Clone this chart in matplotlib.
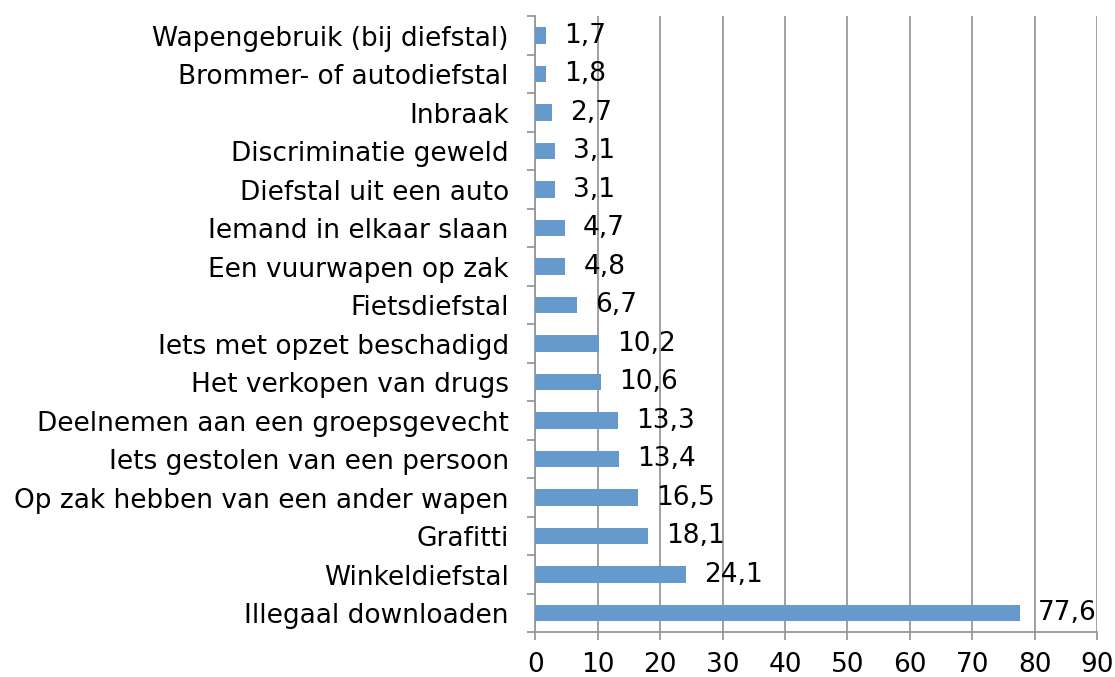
import numpy as np
import matplotlib.pyplot as plt

# categories bottom to top
categories = [
    "Illegaal downloaden",
    "Winkeldiefstal",
    "Grafitti",
    "Op zak hebben van een ander wapen",
    "Iets gestolen van een persoon",
    "Deelnemen aan een groepsgevecht",
    "Het verkopen van drugs",
    "Iets met opzet beschadigd",
    "Fietsdiefstal",
    "Een vuurwapen op zak",
    "Iemand in elkaar slaan",
    "Diefstal uit een auto",
    "Discriminatie geweld",
    "Inbraak",
    "Brommer- of autodiefstal",
    "Wapengebruik (bij diefstal)",
]
values = [77.6, 24.1, 18.1, 16.5, 13.4, 13.3, 10.6, 10.2, 6.7, 4.8, 4.7, 3.1, 3.1, 2.7, 1.8, 1.7]
xticks = list(range(0, 91, 10))

plt.rcParams['font.family'] = ['DejaVu Sans']
fs = 19

fig = plt.figure(figsize=(11.15, 6.77), dpi=100)
ax = fig.add_axes([0.480, 0.066, 0.504, 0.910])

y = np.arange(len(categories))
ax.barh(y, values, height=0.42, color='#6699CC', zorder=3)

for yi, v in zip(y, values):
    ax.annotate(f"{v:.1f}".replace('.', ','), (v, yi), xytext=(13, 0),
                textcoords='offset points', va='center', ha='left', fontsize=fs, zorder=4)

ax.set_xlim(0, 90)
ax.set_ylim(-0.5, len(categories) - 0.5)
ax.set_xticks(xticks)
ax.set_xticklabels([str(t) for t in xticks], fontsize=fs)
ax.set_yticks(y)
ax.set_yticklabels(categories, fontsize=fs)
ax.set_yticks(np.arange(-0.5, len(categories), 1), minor=True)

ax.grid(axis='x', color='#999999', linewidth=1.3, zorder=0)
ax.tick_params(axis='y', which='major', length=0, pad=19)
ax.tick_params(axis='y', which='minor', length=6, color='#999999', width=1.3)
ax.tick_params(axis='x', length=6, color='#999999', width=1.3, pad=8.5)

for s in ['top', 'right']:
    ax.spines[s].set_visible(False)
for s in ['left', 'bottom']:
    ax.spines[s].set_color('#999999')
    ax.spines[s].set_linewidth(1.3)

fig.savefig("out.png", dpi=100)
